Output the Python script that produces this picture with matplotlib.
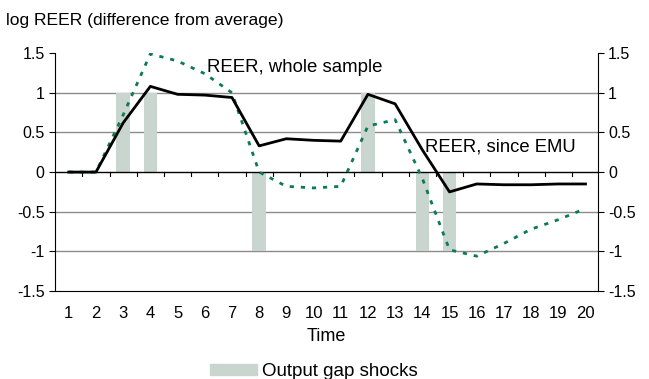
import matplotlib.pyplot as plt
from matplotlib.patches import Patch

plt.rcParams['font.family'] = ['Liberation Sans', 'DejaVu Sans']

periods = list(range(1, 21))
reer_emu = [0, 0, 0.62, 1.08, 0.98, 0.97, 0.94, 0.33, 0.42, 0.40,
            0.39, 0.98, 0.86, 0.28, -0.25, -0.15, -0.16, -0.16, -0.15, -0.15]
reer_whole = [0, 0, 0.72, 1.49, 1.40, 1.24, 1.0, 0.0, -0.18, -0.20,
              -0.18, 0.58, 0.66, -0.08, -0.98, -1.06, -0.90, -0.72, -0.60, -0.46]
shock_periods = [3, 4, 8, 12, 14, 15]
shock_sizes = [1, 1, -1, 1, -1, -1]

fig = plt.figure(figsize=(6.49, 3.79), dpi=100)
ax = fig.add_axes([0.085, 0.232, 0.836, 0.628])

for y in [1, 0.5, -0.5, -1]:
    ax.axhline(y, color='#8c8c8c', lw=1, zorder=0)

ax.bar(shock_periods, shock_sizes, width=0.5, color='#c9d6cf', zorder=1)
ax.axhline(0, color='black', lw=1, zorder=2)

# category boundary ticks hanging below the zero line
for b in range(1, 20):
    ax.plot([b + 0.5, b + 0.5], [0, -0.05], color='black', lw=0.8, zorder=2)

ax.plot(periods, reer_whole, color='#0b7a55', lw=2, linestyle=(0, (1.5, 2.5)), zorder=3)
ax.plot(periods, reer_emu, color='black', lw=2, zorder=4)

ax.set_xlim(0.5, 20.45)
ax.set_ylim(-1.5, 1.5)
ax.set_xticks(periods)
ax.set_yticks([-1.5, -1, -0.5, 0, 0.5, 1, 1.5])
ax.set_yticklabels(['-1.5', '-1', '-0.5', '0', '0.5', '1', '1.5'])
ax.tick_params(axis='x', length=0, labelsize=12, pad=11)
ax.tick_params(axis='y', length=4, labelsize=11.5, left=True, right=True,
               labelleft=True, labelright=True, width=0.8)
ax.spines['top'].set_visible(False)
for s in ['left', 'right', 'bottom']:
    ax.spines[s].set_linewidth(0.8)

ax.set_xlabel('Time', fontsize=13, labelpad=5)

ax.text(6.08, 1.32, 'REER, whole sample', fontsize=13.4, va='center', ha='left')
ax.text(14.1, 0.31, 'REER, since EMU', fontsize=13.3, va='center', ha='left')

fig.text(0.009, 0.947, 'log REER (difference from average)', fontsize=12.6,
         va='center', ha='left')

fig.legend(handles=[Patch(color='#c9d6cf', label='Output gap shocks')],
           loc='center', bbox_to_anchor=(0.484, 0.02), frameon=False,
           fontsize=13.5, handlelength=2.5, handleheight=0.55, handletextpad=0.27)

fig.savefig('out.png', dpi=100)
